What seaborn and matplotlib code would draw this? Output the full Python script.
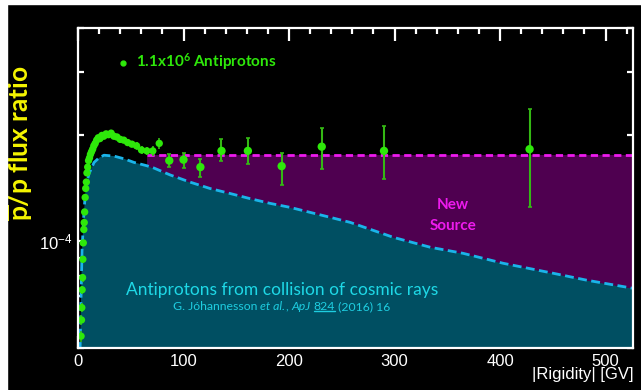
import numpy as np
import pandas as pd
import matplotlib
matplotlib.use("Agg")
import matplotlib.pyplot as plt
import seaborn as sns
from matplotlib.ticker import LogLocator, NullFormatter, MultipleLocator, FixedLocator
from matplotlib.lines import Line2D
from matplotlib.patches import Rectangle

# AMS antiproton / proton ratio, low rigidity bins (GV, ratio in units of 1e-4)
low_rig = [2.9, 3.3, 3.6, 3.9, 4.3, 4.6, 5.0, 5.5, 5.9, 6.3, 6.8, 7.3, 7.9, 8.5,
           9.2, 10.0, 10.9, 11.8, 12.8, 13.9, 15.0, 16.3, 17.7, 19.2, 20.8, 22.6,
           24.5, 26.6, 28.9, 31.4, 34.0, 36.9, 40.0, 43.4, 47.1, 51.1, 55.5, 60.2,
           65.3, 70.9, 77.0]
low_ratio = [0.54, 0.60, 0.65, 0.73, 0.79, 0.89, 0.99, 1.08, 1.13, 1.21, 1.33, 1.41,
             1.47, 1.56, 1.62, 1.69, 1.72, 1.76, 1.79, 1.82, 1.86, 1.89, 1.93, 1.96,
             1.95, 1.99, 1.98, 2.01, 2.00, 2.02, 1.98, 1.97, 1.94, 1.93, 1.90, 1.88,
             1.86, 1.81, 1.80, 1.80, 1.89]
low_err = [0.02, 0.02, 0.02, 0.02, 0.02, 0.02, 0.02, 0.02, 0.02, 0.02, 0.02, 0.02,
           0.02, 0.02, 0.02, 0.02, 0.02, 0.02, 0.02, 0.02, 0.02, 0.02, 0.02, 0.03,
           0.03, 0.03, 0.03, 0.03, 0.03, 0.03, 0.03, 0.04, 0.04, 0.04, 0.04, 0.04,
           0.05, 0.05, 0.05, 0.06, 0.07]

# high rigidity bins with visible error bars
high_rig = [86.5, 100, 116, 136, 161, 193, 231, 290, 428]
high_ratio = [1.69, 1.70, 1.62, 1.80, 1.80, 1.63, 1.85, 1.80, 1.82]
high_err_up = [0.07, 0.08, 0.09, 0.15, 0.16, 0.15, 0.245, 0.32, 0.55]
high_err_down = [0.07, 0.085, 0.105, 0.12, 0.15, 0.19, 0.255, 0.30, 0.57]

# secondary production model (Johannesson et al. 2016)
model_rig = [1.5, 2.0, 2.8, 3.8, 5.7, 7.6, 10.4, 15.2, 19.9, 24.6, 34.1, 43.6, 53.1,
             65.0, 72.0, 87.2, 106, 125, 144, 163, 182, 201, 220, 239, 258, 299,
             334, 365, 403, 450, 482, 526]
model_ratio = [0.30, 0.50, 0.68, 0.94, 1.22, 1.44, 1.55, 1.67, 1.72, 1.75, 1.74, 1.71,
               1.67, 1.635, 1.61, 1.54, 1.47, 1.41, 1.365, 1.32, 1.28, 1.247, 1.207,
               1.169, 1.131, 1.026, 0.962, 0.925, 0.867, 0.813, 0.777, 0.737]

new_source_level = 1.758
new_source_start = 65.0

scale = 1e-4
low_df = pd.DataFrame({"rig": low_rig, "ratio": np.array(low_ratio) * scale})
high_df = pd.DataFrame({"rig": high_rig, "ratio": np.array(high_ratio) * scale})
model_df = pd.DataFrame({"rig": model_rig, "ratio": np.array(model_ratio) * scale})

sns.set_style("ticks")
plt.rcParams["font.family"] = ["Liberation Sans", "DejaVu Sans"]
plt.rcParams["mathtext.fontset"] = "custom"
plt.rcParams["mathtext.rm"] = "Lato"
plt.rcParams["mathtext.bf"] = "Lato:bold"
plt.rcParams["mathtext.it"] = "Lato:italic"

GREEN = "#2ee80a"
GREEN_BAR = "#34b814"
TEAL = "#004f62"
PURPLE = "#4f0050"
CYAN = "#1ab4ea"
MAGENTA = "#ee1aee"

fig = plt.figure(figsize=(6.41, 3.90), dpi=100, facecolor="black")
ax = fig.add_axes([78 / 641, 42 / 390, 555 / 641, 320 / 390])
ax.set_facecolor("black")

# white border of the slide (left and top)
fig.patches.append(Rectangle((0, 0), 7 / 641, 1, transform=fig.transFigure,
                             color="white", zorder=10))
fig.patches.append(Rectangle((0, 1 - 4 / 390), 1, 4 / 390, transform=fig.transFigure,
                             color="white", zorder=10))

mx = model_df["rig"].values
my = model_df["ratio"].values
ax.fill_between(mx, my, 1e-6, color=TEAL, lw=0, zorder=1)
ax.fill_between(mx, my, new_source_level * scale, where=mx >= new_source_start,
                color=PURPLE, lw=0, zorder=1)
ax.plot([new_source_start, 526], [new_source_level * scale] * 2, color=MAGENTA,
        lw=2, dashes=(2.6, 1.6), zorder=2)
sns.lineplot(data=model_df, x="rig", y="ratio", ax=ax, color=CYAN, lw=2,
             dashes=False, zorder=3, estimator=None, sort=False)
ax.lines[-1].set_dashes((3.2, 1.6))

ax.errorbar(low_df["rig"], low_df["ratio"], yerr=np.array(low_err) * scale,
            fmt="none", ecolor=GREEN_BAR, elinewidth=1.2, zorder=4)
sns.scatterplot(data=low_df, x="rig", y="ratio", ax=ax, color=GREEN, s=28,
                edgecolor="none", zorder=5)
ax.errorbar(high_df["rig"], high_df["ratio"],
            yerr=[np.array(high_err_down) * scale, np.array(high_err_up) * scale],
            fmt="none", ecolor=GREEN_BAR, elinewidth=1.5, capsize=1.5, capthick=1.2,
            zorder=4)
sns.scatterplot(data=high_df, x="rig", y="ratio", ax=ax, color=GREEN, s=36,
                edgecolor="none", zorder=5)

ax.set_yscale("log")
ax.set_xlim(0, 526)
ax.set_ylim(5e-5, 4e-4)
ax.xaxis.set_major_locator(MultipleLocator(100))
ax.xaxis.set_minor_locator(MultipleLocator(20))
ax.yaxis.set_major_locator(FixedLocator([1e-4]))
ax.yaxis.set_minor_locator(LogLocator(base=10, subs=np.arange(2, 10)))
ax.yaxis.set_minor_formatter(NullFormatter())
ax.set_yticklabels([r"$\mathdefault{10^{-4}}$"])

for s in ax.spines.values():
    s.set_color("white")
    s.set_linewidth(1.6)
    s.set_zorder(8)
ax.tick_params(which="both", direction="in", top=True, right=True, colors="white",
               labelsize=12, width=1.6)
ax.tick_params(which="major", length=9, pad=4)
ax.tick_params(which="minor", length=4.5)
ax.set_xlabel("")
ax.set_ylabel("")

fig.text(633 / 641, 1 - 375 / 390, "|Rigidity| [GV]", color="white", fontsize=12,
         ha="right", va="center")
fig.text(21 / 641, 1 - 143 / 390, r"$\overline{\mathbf{p}}$/p flux ratio",
         color="#f5f500", fontsize=19, fontweight="bold", family="Lato",
         rotation=90, ha="center", va="center")

# legend
ax.plot([(123 - 78) / 1.055], [10 ** ((241 - 62) / 355) * scale], "o", color=GREEN,
        ms=3.5, clip_on=False, zorder=9)
fig.text(136 / 641, 1 - 62 / 390, r"1.1x10$^{\mathbf{6}}$ Antiprotons", color=GREEN,
         fontsize=11, fontweight="bold", family="Lato", ha="left", va="center")

fig.text(453 / 641, 1 - 205 / 390, "New", color=MAGENTA, fontsize=11,
         fontweight="bold", family="Lato", ha="center", va="center")
fig.text(453 / 641, 1 - 226 / 390, "Source", color=MAGENTA, fontsize=11,
         fontweight="bold", family="Lato", ha="center", va="center")

fig.text(282 / 641, 1 - 290 / 390, "Antiprotons from collision of cosmic rays",
         color="#1ed8e6", fontsize=12.5, family="Lato", ha="center", va="center")

# citation line, pieces with mixed styles
CITE = "#1ecde0"
pieces = [("G. Jóhannesson ", "normal"), ("et al.", "italic"), (", ", "normal"),
          ("ApJ", "italic"), (" ", "normal"), ("824", "normal"),
          (" (2016) 16", "normal")]
prev = fig.text(173 / 641, 1 - 307 / 390, pieces[0][0], color=CITE, fontsize=8.8,
                family="Lato", ha="left", va="center")
arts = [prev]
for txt, sty in pieces[1:]:
    prev = ax.annotate(txt, xy=(1, 0), xycoords=prev, ha="left", va="bottom",
                       color=CITE, fontsize=8.8, family="Lato", style=sty,
                       annotation_clip=False)
    arts.append(prev)

fig.canvas.draw()
bb = arts[5].get_window_extent().transformed(fig.transFigure.inverted())
yline = bb.y0 + 0.12 * bb.height
fig.add_artist(Line2D([bb.x0, bb.x1], [yline, yline], color=CITE, lw=1,
                      transform=fig.transFigure))

fig.savefig("out.png", dpi=100, facecolor="black")
